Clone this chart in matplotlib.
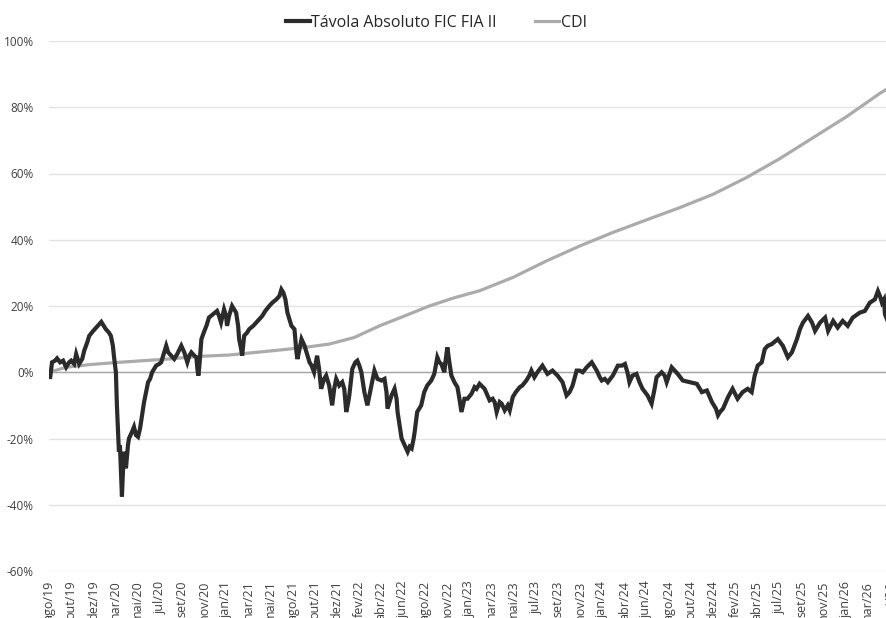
import matplotlib.pyplot as plt
import numpy as np

plt.rcParams['font.family'] = ['Open Sans', 'DejaVu Sans']

# x labels, one every 44 trading days
tick_labels = ['ago/19', 'out/19', 'dez/19', 'mar/20', 'mai/20', 'jul/20', 'set/20', 'nov/20',
               'jan/21', 'mar/21', 'mai/21', 'ago/21', 'out/21', 'dez/21', 'fev/22', 'abr/22',
               'jun/22', 'ago/22', 'nov/22', 'jan/23', 'mar/23', 'mai/23', 'jul/23', 'set/23',
               'nov/23', 'jan/24', 'abr/24', 'jun/24', 'ago/24', 'out/24', 'dez/24', 'fev/25',
               'abr/25', 'jul/25', 'set/25', 'nov/25', 'jan/26', 'mar/26', 'mai/26']
tick_step = 44

# Távola Absoluto FIC FIA II - cumulative return (%), by trading day
fund_days = [0, 2, 6, 12, 16, 22, 28, 34, 40, 44, 50, 54, 60, 66, 70, 76, 80, 88, 94, 100,
             104, 109, 113, 119, 123, 127, 129, 133, 135, 139, 141, 145, 147, 149, 153, 157, 159,
             165, 169, 173, 177, 181, 185, 189, 193, 197, 201, 205, 209, 213, 219, 223, 227, 233,
             237, 243, 249, 255, 263, 269, 275, 279, 283, 289, 293, 295, 297, 299, 303, 309, 313,
             318, 326, 334, 338, 342, 348, 352, 354, 358, 364, 368, 372, 376, 378, 382, 384, 388,
             394, 398, 406, 412, 418, 424, 430, 438, 444, 452, 458, 462, 466, 470, 474, 478, 482,
             488, 492, 494, 498, 502, 508, 514, 518, 522, 527, 533, 537, 541, 547, 551, 557, 563,
             567, 571, 577, 583, 587, 591, 595, 597, 603, 609, 613, 617, 621, 627, 633, 637, 641,
             647, 653, 661, 667, 671, 673, 677, 681, 687, 691, 693, 697, 701, 707, 713, 717, 721,
             725, 727, 732, 736, 740, 746, 752, 760, 766, 772, 776, 780, 786, 788, 792, 796, 800,
             806, 812, 816, 820, 826, 832, 840, 846, 850, 856, 866, 876, 882, 886, 890, 896, 900,
             906, 912, 916, 922, 928, 936, 941, 949, 955, 959, 965, 971, 981, 991, 1001, 1011,
             1021, 1029, 1035, 1041, 1049, 1055, 1061, 1069, 1079, 1085, 1089, 1095, 1099, 1105,
             1111, 1121, 1131, 1139, 1145, 1150, 1154, 1160, 1168, 1174, 1180, 1190, 1198, 1204,
             1208, 1218, 1224, 1228, 1238, 1244, 1250, 1260, 1274, 1288, 1298, 1308, 1318, 1326,
             1330, 1334, 1340, 1350, 1359, 1369, 1379, 1389, 1397, 1403, 1409, 1417, 1423, 1429,
             1437, 1449, 1459, 1469, 1477, 1487, 1493, 1499, 1509, 1517, 1523, 1533, 1543, 1549,
             1559, 1568, 1578, 1588, 1598, 1612, 1622, 1632, 1642, 1648, 1652, 1656, 1660, 1662,
             1666]
fund_values = [0, -2, 3, 3.5, 4.2, 3, 3.5, 1.5, 3, 3.5, 2.5, 5.5, 2.5, 4, 6.5, 9, 11, 12.5, 13.5,
               14.5, 15.2, 14, 13, 12, 11, 8, 5, 0, -10, -24, -22, -37.5, -30, -24, -29, -22, -20,
               -18, -16.5, -19, -19.5, -17, -13, -9, -6, -3, -2, 0, 1, 2, 2.5, 3, 5, 8, 6, 5, 4,
               5.5, 8, 6, 3, 5, 6, 5, 4.5, 1, -1, 2, 10, 12.5, 14, 16.5, 17.5, 18.5, 17, 15, 19,
               17, 14, 17, 20, 19, 18, 14, 10, 7, 5, 11, 12, 13, 14, 15, 16, 17, 18.5, 20, 21, 22,
               23, 25, 24, 22, 18, 16, 14, 13, 6, 4, 7, 10, 8, 5, 3, 2, 0, 5, 1, -5, -2, -1, -4,
               -10, -5, -2, -4, -3, -5, -12, -9, -7, 1, 3, 3.5, 2, 0, -6, -10, -7, -4, 0.5, -2,
               -2.5, -2, -6, -11, -9, -7, -5, -8, -12, -16, -20, -22, -24, -22.5, -23, -20, -18,
               -12, -11, -10, -6, -4, -2.5, -0.5, 4.5, 3, 2.5, 0, 3, 7.5, 3, -1, -3, -4.5, -8,
               -12, -8, -8, -6.5, -4.5, -5, -3.5, -5, -8.5, -8, -9, -12, -9, -9.5, -11.5, -10,
               -11.5, -7.5, -6, -4.5, -4, -2.5, -1, 0.5, -1.5, 0, 2, -0.5, 0.5, -1, -3, -7, -6,
               -4, 0.5, 0.5, 0, 1.5, 3, 1.5, 0.5, -1.5, -2.5, -2, -3, -1, 2, 2, 2.5, 0, -3, -1,
               -0.5, -3, -5, -7, -9.5, -5, -1.5, 0, -1, -3, 1.5, 0.5, -0.5, -2.5, -3, -3.5, -6,
               -5.5, -9, -11, -13, -12, -11, -7.5, -5, -8, -6, -5, -6, -1, 2, 3, 7, 8, 8.5, 10, 8,
               4.5, 6, 10, 13, 15, 17, 15, 12.5, 15, 16.5, 12.5, 15.5, 13.5, 15.5, 14, 16.5, 18,
               18.5, 21, 22, 24.5, 23, 21, 22, 17.5, 16]

# CDI - cumulative return (%)
cdi_days = [0, 34, 80, 139, 238, 299, 358, 458, 508, 557, 607, 657, 707, 756, 806, 856, 922,
            989, 1055, 1121, 1188, 1254, 1320, 1387, 1453, 1519, 1586, 1652, 1666]
cdi_values = [0, 1.5, 2.3, 3, 4, 4.8, 5.2, 6.7, 7.5, 8.5, 10.5, 14, 17, 20, 22.5, 24.6, 28.6,
              33.6, 38.1, 42.2, 46, 49.7, 53.7, 58.8, 64.5, 70.8, 77.2, 84.2, 85.5]

fig = plt.figure(figsize=(8.87, 6.18), dpi=100)
ax = fig.add_axes([49 / 887, 47 / 618, 843 / 887, 530 / 618])

ax.plot(cdi_days, cdi_values, color='#ababab', linewidth=2.3, label='CDI', zorder=2)
ax.plot(fund_days, fund_values, color='#2b2b2b', linewidth=3.0, solid_joinstyle='miter',
        label='Távola Absoluto FIC FIA II', zorder=3)
ax.axhline(0, color='#a6a6a6', linewidth=1.0, zorder=1)

ax.set_xlim(0, 1676)
ax.set_ylim(-60, 100)
ax.set_yticks(np.arange(-60, 101, 20))
ax.set_yticklabels([f'{v}%' for v in range(-60, 101, 20)])
ax.set_xticks(np.arange(len(tick_labels)) * tick_step)
ax.set_xticklabels(tick_labels, rotation=90, va='top', ha='center')

ax.grid(axis='y', color='#e3e3e3', linewidth=1.0, zorder=0)
ax.set_axisbelow(True)
for s in ax.spines.values():
    s.set_visible(False)
ax.tick_params(axis='both', length=0, colors='#404040', labelsize=8.5)
ax.tick_params(axis='x', labelsize=9, pad=7)
ax.tick_params(axis='y', pad=11)

handles, labels = ax.get_legend_handles_labels()
fig.legend(handles[::-1], labels[::-1], loc='center', bbox_to_anchor=(0.492, 0.963), ncol=2,
           frameon=False, fontsize=11.5, handlelength=1.5, handletextpad=0.1,
           columnspacing=2.4, labelcolor='#262626')

fig.savefig('out.png', dpi=100)
